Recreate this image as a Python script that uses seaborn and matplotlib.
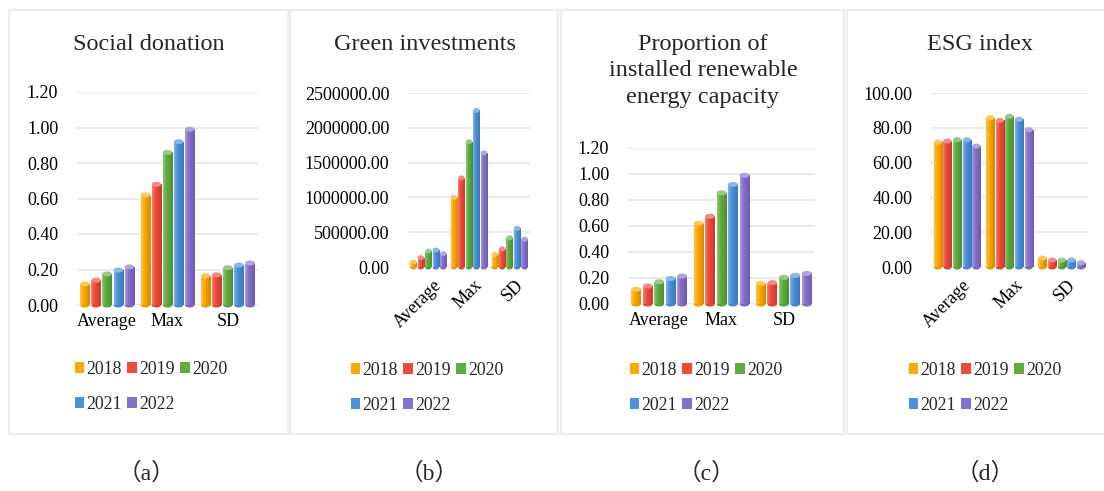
import numpy as np
import pandas as pd
import matplotlib
matplotlib.use("Agg")
import matplotlib.pyplot as plt
import matplotlib.transforms as mtransforms
from matplotlib.patches import Rectangle, Ellipse, Patch
from matplotlib.colors import to_rgb
import seaborn as sns

# ---------------- data ----------------
categories = ["Average", "Max", "SD"]
years = ["2018", "2019", "2020", "2021", "2022"]
colors = ["#FFA800", "#F24A3A", "#5EAD3E", "#4A92DC", "#8670CE"]

social_avg = [0.118, 0.140, 0.175, 0.197, 0.215]
social_max = [0.620, 0.680, 0.860, 0.920, 0.990]
social_sd = [0.165, 0.170, 0.210, 0.225, 0.237]

green_avg = [72000, 134000, 230000, 244000, 190000]
green_max = [1000000, 1280000, 1800000, 2250000, 1640000]
green_sd = [180000, 260000, 420000, 556000, 400000]

renew_avg = [0.113, 0.138, 0.171, 0.197, 0.215]
renew_max = [0.620, 0.675, 0.855, 0.920, 0.990]
renew_sd = [0.159, 0.164, 0.205, 0.220, 0.235]

esg_avg = [71.8, 72.4, 73.2, 73.2, 69.5]
esg_max = [85.8, 84.3, 86.6, 84.9, 78.9]
esg_sd = [5.2, 4.0, 4.0, 4.0, 2.5]

titles = ["Social donation", "Green investments",
          "Proportion of\ninstalled renewable\nenergy capacity", "ESG index"]
captions = ["（a）", "（b）", "（c）", "（d）"]
y_ticks = [[0, 0.2, 0.4, 0.6, 0.8, 1.0, 1.2],
           [0, 500000, 1000000, 1500000, 2000000, 2500000],
           [0, 0.2, 0.4, 0.6, 0.8, 1.0, 1.2],
           [0, 20, 40, 60, 80, 100]]


def make_df(avg, mx, sd):
    rows = []
    for cat, vals in zip(categories, [avg, mx, sd]):
        for yr, v in zip(years, vals):
            rows.append({"category": cat, "year": yr, "value": v})
    return pd.DataFrame(rows)


datasets = [make_df(social_avg, social_max, social_sd),
            make_df(green_avg, green_max, green_sd),
            make_df(renew_avg, renew_max, renew_sd),
            make_df(esg_avg, esg_max, esg_sd)]

# ---------------- layout ----------------
W, H = 1104, 491
sns.set_theme(style="white")
plt.rcParams["font.family"] = ["Liberation Serif", "Noto Sans CJK SC", "DejaVu Sans"]

fig = plt.figure(figsize=(W / 100, H / 100), dpi=100)
fig.patch.set_facecolor("white")

# axes rectangles in pixels: (left, top, right, bottom)
axes_px = [(77, 92, 258, 305), (408, 93, 530, 267),
           (628, 148, 815, 304), (931, 93, 1088, 267)]
boxes_px = [(9, 10, 288, 434), (290, 10, 558, 434),
            (561, 10, 844, 434), (847, 10, 1112, 434)]
title_pos = [(149, 45), (425, 45), (703, 71), (980, 45)]
legend_pos = [(151, 387), (427, 388), (706, 388), (985, 388)]
caption_pos = [(146, 473), (429, 473), (706, 473), (985, 473)]
rotated = [False, True, False, True]


def fx(px):
    return px / W


def fy(py):
    return 1 - py / H


for (l, t, r, b) in boxes_px:
    fig.add_artist(Rectangle((fx(l), fy(b)), fx(r - l), (b - t) / H,
                             transform=fig.transFigure, fill=False,
                             edgecolor="#EDEDED", linewidth=1.6, zorder=0))


def lighten(c, f):
    c = np.array(to_rgb(c))
    return tuple(c + (1 - c) * f)


def darken(c, f):
    c = np.array(to_rgb(c))
    return tuple(c * (1 - f))


for i, df in enumerate(datasets):
    l, t, r, b = axes_px[i]
    ax = fig.add_axes([fx(l), fy(b), fx(r - l), (b - t) / H])
    sns.barplot(data=df, x="category", y="value", hue="year", palette=colors,
                width=0.92, gap=0.15, saturation=1, ax=ax, legend=False,
                errorbar=None, zorder=3)
    ticks = y_ticks[i]
    ax.set_ylim(0, ticks[-1])
    ax.set_xlim(-0.5, 2.5)
    ax.set_yticks(ticks)
    ax.set_yticklabels([f"{v:.2f}" for v in ticks])
    ax.set_xlabel("")
    ax.set_ylabel("")
    for s in ax.spines.values():
        s.set_visible(False)
    ax.grid(axis="y", color="#E8E8E8", linewidth=1.3, zorder=0)
    ax.set_axisbelow(True)
    ax.tick_params(axis="both", length=0, labelsize=13, colors="black")
    ax.tick_params(axis="y", pad=13.5)
    if rotated[i]:
        ax.tick_params(axis="x", pad=7)
        offset = mtransforms.ScaledTranslation(5 / 100, 0, fig.dpi_scale_trans)
        for lab in ax.get_xticklabels():
            lab.set_rotation(45)
            lab.set_ha("right")
            lab.set_rotation_mode("anchor")
            lab.set_transform(lab.get_transform() + offset)
    else:
        ax.tick_params(axis="x", pad=6)

    # cylinder look: horizontal shading + elliptic caps
    ax_h_px = b - t
    ylim_range = ticks[-1]
    cap_h = 5.0 * ylim_range / ax_h_px
    bars = [p for p in ax.patches if isinstance(p, Rectangle)]
    for p in bars:
        x0, w, h = p.get_x(), p.get_width(), p.get_height()
        base = p.get_facecolor()[:3]
        n = 32
        xs = np.linspace(0, 1, n)
        img = np.zeros((1, n, 3))
        for k, xv in enumerate(xs):
            if xv < 0.35:
                f = (0.35 - xv) / 0.35
                img[0, k] = lighten(base, 0.30 * f)
            else:
                f = (xv - 0.35) / 0.65
                img[0, k] = darken(base, 0.18 * f)
        im = ax.imshow(img, extent=[x0, x0 + w, 0, h], aspect="auto",
                       interpolation="bilinear", zorder=3.5)
        im.set_clip_path(p)
        ax.add_patch(Ellipse((x0 + w / 2, 0), w, cap_h, facecolor=darken(base, 0.08),
                             edgecolor="none", zorder=3.4, clip_on=False))
        ax.add_patch(Ellipse((x0 + w / 2, h), w, cap_h, facecolor=lighten(base, 0.35),
                             edgecolor="none", zorder=3.6, clip_on=False))
    ax.set_ylim(0, ticks[-1])
    ax.set_xlim(-0.5, 2.5)

    handles = [Patch(facecolor=c, edgecolor="none") for c in colors]
    order = [0, 3, 1, 4, 2]
    leg = ax.legend([handles[k] for k in order], [years[k] for k in order],
                    ncol=3, loc="center",
                    bbox_to_anchor=(fx(legend_pos[i][0]), fy(legend_pos[i][1])),
                    bbox_transform=fig.transFigure, frameon=False,
                    fontsize=12.8, handlelength=0.55, handleheight=0.6,
                    handletextpad=0.12, columnspacing=0.3, labelspacing=1.0,
                    borderpad=0, borderaxespad=0)

    fig.text(fx(title_pos[i][0]), fy(title_pos[i][1]), titles[i], ha="center",
             va="center", fontsize=17.5, linespacing=1.36)
    fig.text(fx(caption_pos[i][0]), fy(caption_pos[i][1]), captions[i],
             ha="center", va="center", fontsize=17)

fig.savefig("out.png", dpi=100, facecolor="white")
